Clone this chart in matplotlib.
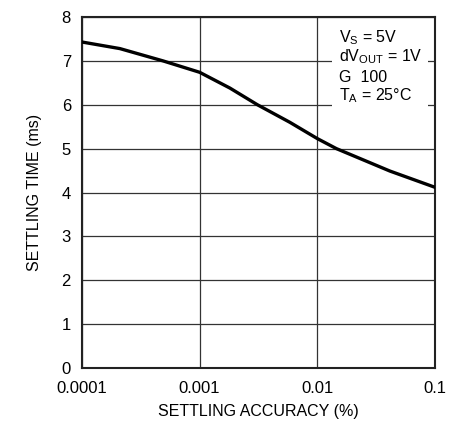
import matplotlib
matplotlib.use('Agg')
import matplotlib.pyplot as plt
from matplotlib.patches import Rectangle

plt.rcParams['font.family'] = ['Liberation Sans', 'DejaVu Sans']
plt.rcParams['mathtext.fontset'] = 'custom'
plt.rcParams['mathtext.rm'] = 'Liberation Sans'
plt.rcParams['mathtext.it'] = 'Liberation Sans'

# settling accuracy (%) vs settling time (ms)
accuracy = [0.0001, 0.00021, 0.000488, 0.001, 0.00181, 0.0031, 0.00585,
            0.01, 0.01456, 0.0414, 0.1]
settling_ms = [7.43, 7.28, 7.0, 6.74, 6.38, 6.0, 5.6, 5.23, 5.0, 4.49, 4.12]

x_ticks = [0.0001, 0.001, 0.01, 0.1]
x_labels = ['0.0001', '0.001', '0.01', '0.1']
y_ticks = [0, 1, 2, 3, 4, 5, 6, 7, 8]

fig = plt.figure(figsize=(4.53, 4.25), dpi=100)
ax = fig.add_axes([0.181, 0.134, 0.779, 0.826])

ax.plot(accuracy, settling_ms, color='black', lw=2.4, zorder=3,
        solid_joinstyle='round')

ax.set_xscale('log')
ax.set_xlim(0.0001, 0.1)
ax.set_ylim(0, 8)
ax.set_xticks(x_ticks)
ax.set_xticklabels(x_labels)
ax.minorticks_off()
ax.set_yticks(y_ticks)
ax.tick_params(length=0, labelsize=12)
ax.tick_params(axis='x', pad=9)
ax.tick_params(axis='y', pad=8)
ax.grid(True, color='#333333', lw=0.9)
for s in ax.spines.values():
    s.set_linewidth(1.5)
    s.set_color('#222222')

ax.set_xlabel('SETTLING ACCURACY (%)', fontsize=11.5, labelpad=6)
ax.set_ylabel('SETTLING TIME (ms)', fontsize=11.5, labelpad=14)

# white patch behind the conditions text
ax.add_patch(Rectangle((0.0133, 5.9), 0.0871 - 0.0133, 2.05, facecolor='white',
                       edgecolor='none', zorder=2.5))
notes = [r'V$_\mathrm{S}$ = 5V', r'dV$_\mathrm{OUT}$ = 1V', 'G  100', r'T$_\mathrm{A}$ = 25°C']
note_y = [7.43, 7.0, 6.52, 6.11]
for txt, yv in zip(notes, note_y):
    ax.text(0.0152, yv, txt, fontsize=11.5, va='baseline', ha='left', zorder=4)

fig.savefig('out.png', dpi=100)
